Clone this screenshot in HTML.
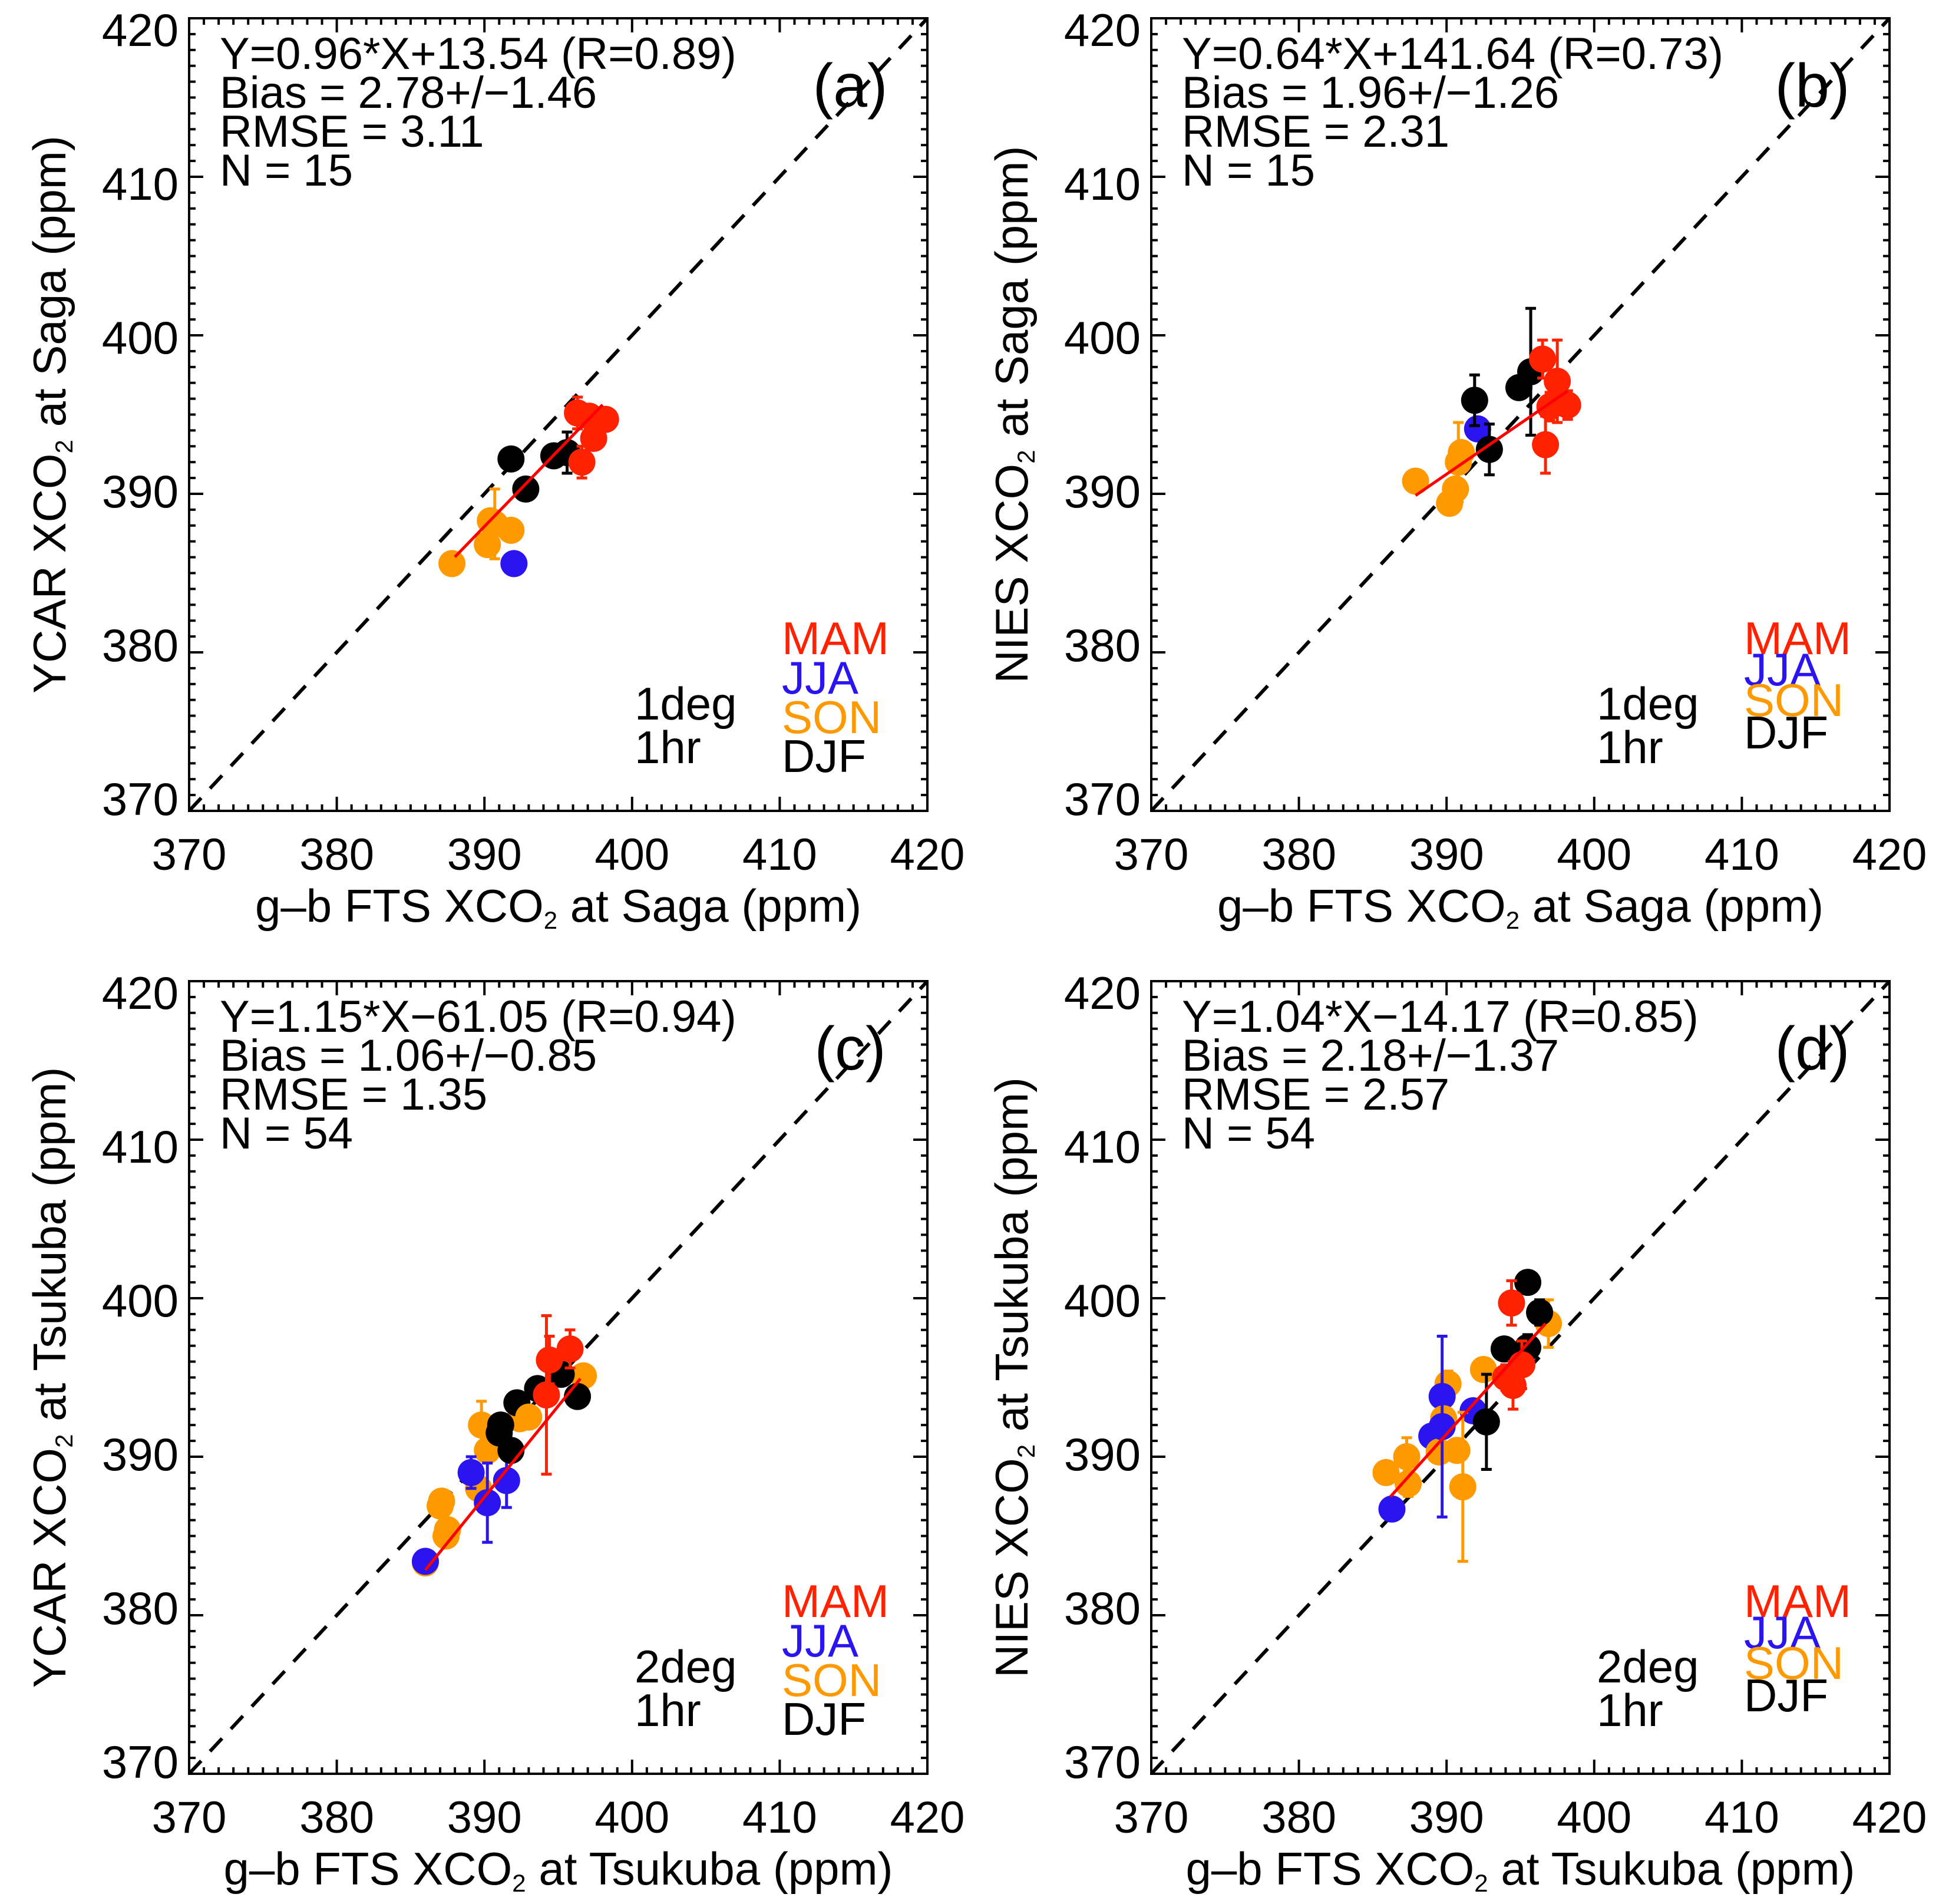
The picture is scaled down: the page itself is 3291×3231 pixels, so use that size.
<!DOCTYPE html>
<html><head><meta charset="utf-8"><style>
html,body{margin:0;padding:0;background:#fff}
svg{display:block}
text{font-family:"Liberation Sans",Arial,sans-serif;fill:#000}
</style></head><body>
<svg id="fig" xmlns="http://www.w3.org/2000/svg" width="3291" height="3231" viewBox="0 0 3291 3231"></svg>
<script>
// ---- data ----
const ticks = [370, 380, 390, 400, 410, 420];
const seasons = ['MAM', 'JJA', 'SON', 'DJF'];
const seasonColors = ['#ff2200', '#2a14f0', '#ff9900', '#000000'];

// panel a
const aX = [387.8,392.0,390.4,391.8,390.2,390.7,391.8,392.8,394.7,395.6,396.3,398.2,397.4,396.6,397.1];
const aY = [385.6,385.6,388.3,387.7,386.8,388.1,392.2,390.3,392.4,392.6,395.1,394.7,393.5,392.0,394.9];
const aS = [2,1,2,2,2,2,3,3,3,3,0,0,0,0,0];
const aE = [0.3,0.3,0.5,0.5,0.4,2.2,0.4,0.4,0.4,1.3,1.0,0.5,0.5,1.0,0.6];
// panel b
const bX = [387.9,390.6,390.2,391.0,392.1,391.9,392.9,394.9,395.7,396.5,397.5,397.0,398.2,396.7,390.8];
const bY = [390.8,390.3,389.4,392.6,394.1,395.9,392.8,396.7,397.7,398.5,397.1,395.5,395.6,393.1,392.0];
const bS = [2,2,2,2,1,3,3,3,3,0,0,0,0,0,2];
const bE = [0.3,0.5,0.4,0.5,0.4,1.6,1.6,0.4,4.0,1.2,2.6,0.9,0.9,1.8,2.5];
// panel c
const cX = [387.1,389.8,390.2,389.6,392.4,396.7,387.5,386.0,387.4,387.0,389.1,391.5,390.2,386.0,392.2,393.6,395.2,396.3,391.8,391.1,394.4,395.8,394.2,391.0,393.0];
const cY = [387.2,392.0,390.4,388.0,392.4,395.1,385.4,383.3,385.0,386.9,389.0,388.5,387.1,383.4,393.4,394.3,395.2,393.8,390.4,392.0,396.1,396.8,393.9,391.5,392.5];
const cS = [2,2,2,2,2,2,2,2,2,2,1,1,1,1,3,3,3,3,3,3,0,0,0,3,2];
const cE = [0.4,1.5,0.6,0.5,0.6,0.6,0.5,0.5,0.5,0.6,1.0,1.7,2.5,0.4,0.5,0.5,0.5,0.5,0.6,0.5,1.5,1.2,5.0,0.5,0.5];
// panel d
const dX = [395.5,394.4,396.9,396.3,393.9,395.5,394.5,395.1,392.5,391.8,390.1,389.7,389.8,389.0,390.7,392.7,391.1,385.9,387.4,387.3,386.3,389.5,389.7,394.0];
const dY = [401.0,399.7,398.4,399.1,396.8,396.9,394.5,395.8,395.5,392.9,394.6,393.8,392.4,391.3,390.4,392.2,388.1,389.0,388.3,390.0,386.7,390.3,391.9,395.0];
const dS = [3,0,2,3,3,3,0,0,2,1,2,1,2,1,2,3,2,2,2,2,1,2,1,0];
const dE = [0.4,1.4,1.5,0.8,0.5,0.8,1.5,1.5,0.5,0.5,0.8,0.5,0.6,0.5,0.6,3.0,4.7,0.5,0.8,1.2,0.4,0.6,5.7,0.8];

const fitSlope = [0.96, 0.64, 1.15, 1.04];
const fitIntercept = [13.54, 141.64, -61.05, -14.17];
const fitXMin = [388.0, 387.9, 386.0, 386.2];
const fitXMax = [398.0, 398.2, 396.5, 396.7];

const statLines = [
 ['Y=0.96*X+13.54 (R=0.89)','Bias = 2.78+/\u22121.46','RMSE = 3.11','N = 15'],
 ['Y=0.64*X+141.64 (R=0.73)','Bias = 1.96+/\u22121.26','RMSE = 2.31','N = 15'],
 ['Y=1.15*X\u221261.05 (R=0.94)','Bias = 1.06+/\u22120.85','RMSE = 1.35','N = 54'],
 ['Y=1.04*X\u221214.17 (R=0.85)','Bias = 2.18+/\u22121.37','RMSE = 2.57','N = 54']
];
const panelLabels = ['(a)','(b)','(c)','(d)'];
const yTitles = ['YCAR XCO','NIES XCO','YCAR XCO','NIES XCO'];
const sites = ['Saga','Saga','Tsukuba','Tsukuba'];
const resLabels = [['1deg','1hr'],['1deg','1hr'],['2deg','1hr'],['2deg','1hr']];

// ---- layout ----
const NS = 'http://www.w3.org/2000/svg';
const svg = document.getElementById('fig');
const panels = [
 {L:321,T:31,X:aX,Y:aY,S:aS,E:aE,leg:[1083,1150,1217,1283]},
 {L:1954,T:31,X:bX,Y:bY,S:bS,E:bE,leg:[1083,1136,1188,1243]},
 {L:321,T:1665,X:cX,Y:cY,S:cS,E:cE,leg:[1083,1150,1217,1283]},
 {L:1954,T:1665,X:dX,Y:dY,S:dS,E:dE,leg:[1083,1136,1188,1243]}
];
const W = 1253, H = 1345, R = 23;

function mk(tag, attrs, parent){
  const e = document.createElementNS(NS, tag);
  for (const k in attrs) e.setAttribute(k, attrs[k]);
  (parent||svg).appendChild(e);
  return e;
}

panels.forEach((p, i) => {
  const g = mk('g', {});
  
  
  const sx = v => p.L + (v - 370) / 50 * W;
  const sy = v => p.T + H - (v - 370) / 50 * H;

  // ticks
  const tg = mk('g', {stroke:'#000','stroke-width':4}, g);
  
  
  for (let v = 370; v <= 420; v++) {
    const len = (v % 10 === 0) ? 24 : 11;
    const x = sx(v), y = sy(v);
    mk('line', {x1:x,y1:p.T+H,x2:x,y2:p.T+H-len}, tg);
    mk('line', {x1:x,y1:p.T,x2:x,y2:p.T+len}, tg);
    mk('line', {x1:p.L,y1:y,x2:p.L+len,y2:y}, tg);
    mk('line', {x1:p.L+W,y1:y,x2:p.L+W-len,y2:y}, tg);
  }
  ticks.forEach(v => {
    const xt = mk('text', {x:sx(v), y:p.T+H+100, 'font-size':76, 'text-anchor':'middle'}, g);
    xt.textContent = v;
    
    
    const yt = mk('text', {x:p.L-18, y:sy(v)+27 + (v - 395)*0.8, 'font-size':78, 'text-anchor':'end'}, g);
    yt.textContent = v;
    
    
  });

  // 1:1 line
  const one = mk('line', {x1:sx(370),y1:sy(370),x2:sx(420),y2:sy(420),stroke:'#000','stroke-width':6,'stroke-dasharray':'30 22'}, g);
  
  

  // points
  const pg = mk('g', {}, g);
  
  
  p.X.forEach((xv, j) => {
    const c = seasonColors[p.S[j]];
    const x = sx(xv), y = sy(p.Y[j]);
    const y1 = sy(p.Y[j] + p.E[j]), y2 = sy(p.Y[j] - p.E[j]);
    const eb = mk('g', {stroke:c,'stroke-width':5}, pg);
    
    
    mk('line', {x1:x,y1:y1,x2:x,y2:y2}, eb);
    mk('line', {x1:x-9,y1:y1,x2:x+9,y2:y1}, eb);
    mk('line', {x1:x-9,y1:y2,x2:x+9,y2:y2}, eb);
    const pt = mk('circle', {cx:x,cy:y,r:R,fill:c}, pg);
    
    
  });

  // fit line
  const fl = mk('line', {x1:sx(fitXMin[i]),y1:sy(fitSlope[i]*fitXMin[i]+fitIntercept[i]),x2:sx(fitXMax[i]),y2:sy(fitSlope[i]*fitXMax[i]+fitIntercept[i]),stroke:'#ff0000','stroke-width':5}, g);
  
  

  // frame
  const fr = mk('rect', {x:p.L,y:p.T,width:W,height:H,fill:'none',stroke:'#000','stroke-width':4}, g);
  
  

  // stats
  statLines[i].forEach((s, k) => {
    const t = mk('text', {x:p.L+52, y:p.T+86+k*66, 'font-size':76}, g);
    t.textContent = s;
    
    
  });
  const pl = mk('text', {x:p.L+1122, y:p.T+150, 'font-size':104, 'text-anchor':'middle'}, g);
  pl.textContent = panelLabels[i];
  
  

  // legend
  seasons.forEach((s, k) => {
    const t = mk('text', {x:p.L+1006, y:p.T + (p.leg[k] - 31) + 27, 'font-size':78}, g);
    t.setAttribute('style', 'fill:' + seasonColors[k]);
    t.textContent = s;
    
    
  });
  resLabels[i].forEach((s, k) => {
    const t = mk('text', {x:p.L+756, y:p.T + (k ? 1237 : 1163) + 27, 'font-size':78}, g);
    t.textContent = s;
    
    
  });

  // x title
  const xt = mk('text', {x:p.L+W/2, y:p.T+H+188, 'font-size':78, 'text-anchor':'middle'}, g);
  xt.innerHTML = 'g\u2013b FTS XCO<tspan font-size="42" dy="12">2</tspan><tspan dy="-12"> at ' + sites[i] + ' (ppm)</tspan>';
  
  
  // y title
  const cx = p.L - 210, cy = p.T + H/2;
  const yt = mk('text', {x:cx, y:cy, 'font-size':78, 'text-anchor':'middle', transform:'rotate(-90 '+cx+' '+cy+')'}, g);
  yt.innerHTML = yTitles[i] + '<tspan font-size="42" dy="12">2</tspan><tspan dy="-12"> at ' + sites[i] + ' (ppm)</tspan>';
  
  
});
</script>
</body></html>
